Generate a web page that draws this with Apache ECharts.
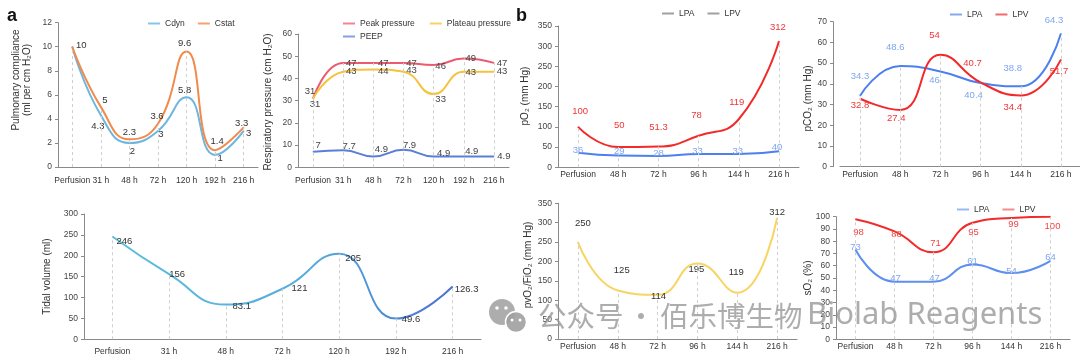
<!DOCTYPE html>
<html><head><meta charset="utf-8">
<script src="https://cdn.jsdelivr.net/npm/echarts@6/dist/echarts.min.js"></script>
<style>html,body{margin:0;padding:0;background:#fff}#c{width:1080px;height:363px}</style>
</head><body><div id="c"></div><script>
// ---------- data ----------
const catsA = ["Perfusion","31 h","48 h","72 h","120 h","192 h","216 h"];
const catsB = ["Perfusion","48 h","72 h","96 h","144 h","216 h"];
const cdyn = [10,4.3,2,3,5.8,1,3];
const cstat = [10,5,2.3,3.6,9.6,1.4,3.3];
const peakPressure = [31,47,47,47,46,49,47];
const plateauPressure = [31,43,44,43,33,43,43];
const peep = [7,7.7,4.9,7.9,4.9,4.9,4.9];
const tidalVolume = [246,156,83.1,121,205,49.6,126.3];
const pO2LPA = [36,29,28,33,33,40];
const pO2LPV = [100,50,51.3,78,119,312];
const pCO2LPA = [34.3,48.6,46,40.4,38.8,64.3];
const pCO2LPV = [32.8,27.4,54,40.7,34.4,51.7];
const pvO2FiO2 = [250,125,114,195,119,312];
const sO2LPA = [73,47,47,61,54,64];
const sO2LPV = [98,88,71,95,99,100];

// ---------- label placement (style only) ----------
const cdynOff = [null,[-3,11],[3,8],[3,3],[-2,-7],[5,3],[5,2]];
const cstatOff = [[9,-1],[4,-7],[0,-7],[-1,-7],[-2,-8],[2,-9],[-2,-4]];
const peakOff = [[-3,-7],[8,0],[10,0],[8,0],[7,1],[7,0],[8,0]];
const plateauOff = [[2,6],[8,0],[10,2],[8,-1],[7,5],[7,1],[8,0]];
const peepOff = [[5,-6],[6,-4],[8,-7],[6,-4],[10,-3],[8,-5],[10,0]];
const tidalOff = [[12,5],[8,0],[16,2],[17,0],[14,5],[15,1],[14,3]];
const pO2LPVOff = [[2,-16],[1,-22],[0,-19],[-2,-20],[-2,-17],[-1,-14]];
const pO2LPAOff = [[0,-2],[1,-4],[0,-3],[-1,-3],[-1,-3],[-2,-4]];
const pCO2LPAOff = [[0,-19],[-5,-19],[-6,9],[-7,12],[-8,-18],[-7,-13]];
const pCO2LPVOff = [[0,7],[-4,8],[-6,-19],[-8,-19],[-8,12],[-2,12]];
const pvOff = [[5,-19],[4,-20],[1,2],[-1,6],[-1,-20],[0,-6]];
const sO2LPVOff = [[3,13],[2,3],[2,-9],[1,10],[2,6],[2,10]];
const sO2LPAOff = [[0,-2],[1,-3],[1,-3],[0,-3],[0,-2],[0,-3]];

const F = '"Liberation Sans", Arial, sans-serif';
const AX = '#8a8a8a';

const grids = [
  {left:58, top:22.7, width:200, height:144.3},
  {left:298, top:34, width:211, height:133.3},
  {left:558, top:26, width:241, height:141.3},
  {left:840, top:21.7, width:241, height:145},
  {left:84, top:214, width:397, height:125.3},
  {left:558, top:203.3, width:239, height:135.7},
  {left:836, top:216.7, width:234, height:122.6}
].map(g => Object.assign({outerBoundsMode:'none', containLabel:false}, g));

function yAx(idx, max, interval, offset) {
  return {type:'value', gridIndex:idx, min:0, max:max, interval:interval, offset:offset||0,
    axisLine:{show:true, lineStyle:{color:AX, width:1}},
    axisTick:{show:true, length:3, lineStyle:{color:AX}},
    splitLine:{show:false},
    axisLabel:{fontSize:8.5, color:'#444', margin:6, fontFamily:F}};
}
function xAx(idx, cats, margin) {
  return {type:'category', gridIndex:idx, data:cats, boundaryGap:true,
    axisLine:{show:true, lineStyle:{color:AX, width:1}},
    axisTick:{show:false},
    axisLabel:{fontSize:8.5, color:'#333', margin:margin, interval:0, fontFamily:F}};
}

const xAxes = [xAx(0,catsA,9), xAx(1,catsA,9), xAx(2,catsB,3), xAx(3,catsB,3),
               xAx(4,catsA,8), xAx(5,catsB,3), xAx(6,catsB,3)];
const yAxes = [yAx(0,12,2), yAx(1,60,10), yAx(2,350,50), yAx(3,70,10,7),
               yAx(4,300,50), yAx(5,350,50), yAx(6,100,10)];

function labeled(values, offsets) {
  return values.map((v,i) => {
    const o = offsets[i];
    if (!o) return {value:v, label:{show:false}};
    return {value:v, label:{show:true, position:'inside', offset:o}};
  });
}
function line(name, values, idx, color, labelColor, offsets, width) {
  return {type:'line', name:name, xAxisIndex:idx, yAxisIndex:idx,
    data:labeled(values, offsets), smooth:0.5,
    symbol:'circle', symbolSize:1, showSymbol:true,
    lineStyle:{color:color, width:width||2}, itemStyle:{color:color},
    label:{show:true, fontSize:9.5, color:labelColor, fontFamily:F},
    emphasis:{disabled:true}, z:3};
}
function drops(series, cats, arrays) {
  const tops = cats.map((c,i) => Math.max.apply(null, arrays.map(a => a[i])));
  series.markLine = {silent:true, symbol:['none','none'], animation:false,
    lineStyle:{type:[3,3], color:'#cfcfcf', width:1}, label:{show:false},
    emphasis:{disabled:true},
    data:cats.map((c,i) => [{coord:[c,0]},{coord:[c,tops[i]]}])};
  return series;
}

const red = '#f22a2a', blue = '#4d7ff0';
const series = [
  drops(line('Cdyn', cdyn, 0, '#6cb6e0', '#333', cdynOff), catsA, [cdyn,cstat]),
  line('Cstat', cstat, 0, '#f28a4c', '#333', cstatOff),
  drops(line('Peak pressure', peakPressure, 1, '#ec5a70', '#444', peakOff), catsA, [peakPressure]),
  line('Plateau pressure', plateauPressure, 1, '#f5c23c', '#444', plateauOff),
  line('PEEP', peep, 1, '#5b7fd8', '#444', peepOff),
  drops(line('LPV', pO2LPV, 2, red, '#f03535', pO2LPVOff), catsB, [pO2LPV,pO2LPA]),
  line('LPA', pO2LPA, 2, blue, '#7ea6f2', pO2LPAOff),
  drops(line('LPA', pCO2LPA, 3, blue, '#7ea6f2', pCO2LPAOff), catsB, [pCO2LPA,pCO2LPV]),
  line('LPV', pCO2LPV, 3, red, '#f03535', pCO2LPVOff),
  drops(line('Tidal volume', tidalVolume, 4,
    new echarts.graphic.LinearGradient(0,0,1,0,[{offset:0,color:'#5cc0dc'},{offset:0.6,color:'#55aadc'},{offset:1,color:'#4a6fd2'}]),
    '#333', tidalOff), catsA, [tidalVolume]),
  drops(line('pvO2/FiO2', pvO2FiO2, 5, '#f8d462', '#333', pvOff), catsB, [pvO2FiO2]),
  drops(line('LPV', sO2LPV, 6, red, '#f04545', sO2LPVOff), catsB, [sO2LPV,sO2LPA]),
  line('LPA', sO2LPA, 6, '#5b8ff0', '#7ea6f2', sO2LPAOff)
];

const legBase = {icon:'rect', itemWidth:12, itemHeight:2, itemGap:13, selectedMode:false,
  textStyle:{fontSize:8.5, color:'#333', fontFamily:F}, padding:0};
function leg(o){ return Object.assign({}, legBase, o); }
const legends = [
  leg({left:148, top:19, data:[{name:'Cdyn', itemStyle:{color:'#86c4ea'}},{name:'Cstat', itemStyle:{color:'#f6a172'}}]}),
  leg({left:343, top:19, itemGap:15, data:[{name:'Peak pressure', itemStyle:{color:'#f28494'}},{name:'Plateau pressure', itemStyle:{color:'#f8d264'}}]}),
  leg({left:343, top:32, data:[{name:'PEEP', itemStyle:{color:'#86a0e4'}}]}),
  leg({left:662, top:9, data:[{name:'LPA', itemStyle:{color:'#a0a0a0'}},{name:'LPV', itemStyle:{color:'#a0a0a0'}}]}),
  leg({left:950, top:10, data:[{name:'LPA', itemStyle:{color:'#86a8f2'}},{name:'LPV', itemStyle:{color:'#f36a6a'}}]}),
  leg({left:957, top:205, data:[{name:'LPA', itemStyle:{color:'#9ab8f4'}},{name:'LPV', itemStyle:{color:'#f58a8a'}}]})
];

function yName(text, x, y) {
  return {type:'text', x:x, y:y, rotation:Math.PI/2, silent:true,
    style:{text:text, fill:'#333', font:'10px ' + F, align:'center', verticalAlign:'middle', lineHeight:11}};
}
const wmFill = 'rgba(150,150,150,0.78)';
const graphics = [
  {type:'text', left:7, top:7, style:{text:'a', fill:'#111', font:'bold 18px ' + F}},
  {type:'text', left:516, top:7, style:{text:'b', fill:'#111', font:'bold 18px ' + F}},
  yName('Pulmonary compliance\n(ml per cm H₂O)', 21.5, 80),
  yName('Respiratory pressure (cm H₂O)', 268, 102),
  yName('pO₂ (mm Hg)', 525, 96),
  yName('pCO₂ (mm Hg)', 808, 98.5),
  yName('Tidal volume (ml)', 47, 276.5),
  yName('pvO₂/FiO₂ (mm Hg)', 528, 265),
  yName('sO₂ (%)', 808, 278),
  // watermark
  {type:'circle', z:100, silent:true, shape:{cx:502, cy:312, r:13}, style:{fill:wmFill}},
  {type:'circle', z:100, silent:true, shape:{cx:516, cy:322, r:10.5}, style:{fill:'rgba(160,160,160,0.9)', stroke:'#fff', lineWidth:1.5}},
  {type:'circle', z:101, silent:true, shape:{cx:497, cy:308, r:1.8}, style:{fill:'#fff'}},
  {type:'circle', z:101, silent:true, shape:{cx:506, cy:308, r:1.8}, style:{fill:'#fff'}},
  {type:'circle', z:101, silent:true, shape:{cx:512, cy:320, r:1.5}, style:{fill:'#fff'}},
  {type:'circle', z:101, silent:true, shape:{cx:520, cy:320, r:1.5}, style:{fill:'#fff'}},
  {type:'text', z:100, silent:true, x:538, y:316.5, style:{text:'公众号', fill:wmFill, font:'28.5px "Noto Sans CJK SC"', verticalAlign:'middle'}},
  {type:'text', z:100, silent:true, x:641, y:316.5, style:{text:'·', fill:wmFill, font:'28.5px "Noto Sans CJK SC"', align:'center', verticalAlign:'middle'}},
  {type:'text', z:100, silent:true, x:660, y:316.5, style:{text:'佰乐博生物', fill:wmFill, font:'28.5px "Noto Sans CJK SC"', verticalAlign:'middle'}},
  {type:'text', z:100, silent:true, x:807, y:315, style:{text:'Biolab Reagents', fill:wmFill, font:'31px "Noto Sans"', verticalAlign:'middle'}}
];

const chart = echarts.init(document.getElementById('c'), null, {renderer:'canvas'});
chart.setOption({
  animation:false,
  backgroundColor:'#fff',
  textStyle:{fontFamily:F},
  grid:grids, xAxis:xAxes, yAxis:yAxes, legend:legends, series:series, graphic:graphics
});
</script></body></html>
